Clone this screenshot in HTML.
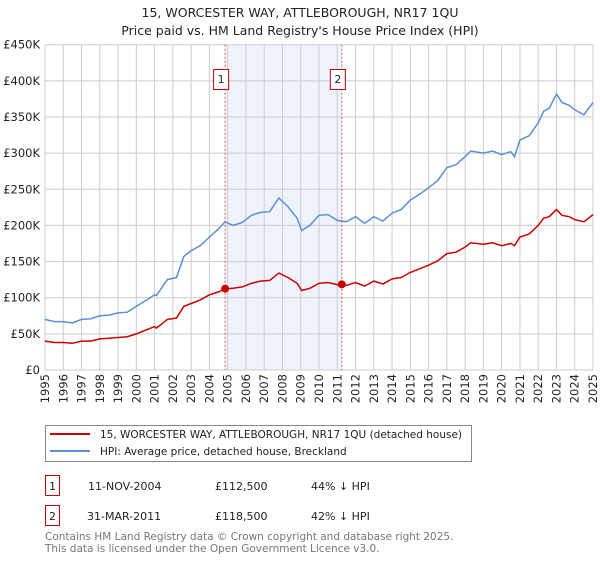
<!DOCTYPE html>
<html><head><meta charset="utf-8"><style>
body{margin:0;background:#fff;font-family:"DejaVu Sans","Liberation Sans",sans-serif;}
svg text{font-family:"DejaVu Sans","Liberation Sans",sans-serif;}
</style></head><body>
<svg id="chart" width="600" height="560" xmlns="http://www.w3.org/2000/svg">
<text x="300" y="17" text-anchor="middle" font-size="12.5" fill="#222">15, WORCESTER WAY, ATTLEBOROUGH, NR17 1QU</text>
<text x="300" y="35" text-anchor="middle" font-size="12.5" fill="#222">Price paid vs. HM Land Registry's House Price Index (HPI)</text>
<g id="grid"></g><g id="marks"></g><g id="axes"></g>
<g>
<rect x="45.5" y="425.5" width="426" height="36" fill="#fff" stroke="#888"/>
<line x1="50" y1="434" x2="90" y2="434" stroke="#cc0000" stroke-width="2"/>
<text x="100" y="438" font-size="10.5" fill="#222">15, WORCESTER WAY, ATTLEBOROUGH, NR17 1QU (detached house)</text>
<line x1="50" y1="451" x2="90" y2="451" stroke="#5b8fd4" stroke-width="2"/>
<text x="100" y="455" font-size="10.5" fill="#222">HPI: Average price, detached house, Breckland</text>
</g>
<g font-size="11" fill="#222">
<rect x="45.5" y="475.5" width="14" height="20" fill="none" stroke="#cc0000"/>
<text x="52.5" y="490" text-anchor="middle">1</text>
<text x="88" y="490">11-NOV-2004</text><text x="215" y="490">£112,500</text><text x="311" y="490">44% ↓ HPI</text>
<rect x="45.5" y="505.5" width="14" height="20" fill="none" stroke="#cc0000"/>
<text x="52.5" y="520" text-anchor="middle">2</text>
<text x="87" y="520">31-MAR-2011</text><text x="215" y="520">£118,500</text><text x="311" y="520">42% ↓ HPI</text>
</g>
<text x="45" y="540" font-size="10.5" fill="#777">Contains HM Land Registry data © Crown copyright and database right 2025.</text>
<text x="45" y="552" font-size="10.5" fill="#777">This data is licensed under the Open Government Licence v3.0.</text>
</svg>
<script>
const hpiYears=[1995,1995.5,1996,1996.5,1997,1997.5,1998,1998.5,1999,1999.5,2000,2000.5,2001,2001.1,2001.7,2002.2,2002.6,2003,2003.5,2004,2004.5,2004.86,2005.3,2005.8,2006.3,2006.8,2007.3,2007.8,2008.3,2008.8,2009.05,2009.5,2010,2010.5,2011,2011.5,2012,2012.5,2013,2013.5,2014,2014.5,2015,2015.5,2016,2016.5,2017,2017.5,2018,2018.3,2019,2019.5,2020,2020.5,2020.7,2021,2021.5,2022,2022.3,2022.6,2023,2023.3,2023.7,2024,2024.5,2025];
const hpiValues=[70,67,67,65,70,71,75,76,79,80,88,96,104,103,125,128,157,165,172,184,195,205,200,204,214,218,219,238,226,210,193,200,214,215,207,205,212,203,212,206,217,222,235,243,252,262,280,284,295,303,300,303,298,302,295,318,324,342,358,362,382,370,366,360,353,370];
const propYears=[1995,1995.5,1996,1996.5,1997,1997.5,1998,1998.5,1999,1999.5,2000,2000.5,2001,2001.1,2001.7,2002.2,2002.6,2003,2003.5,2004,2004.5,2004.86,2005.3,2005.8,2006.3,2006.8,2007.3,2007.8,2008.3,2008.8,2009.05,2009.5,2010,2010.5,2011,2011.25,2011.5,2012,2012.5,2013,2013.5,2014,2014.5,2015,2015.5,2016,2016.5,2017,2017.5,2018,2018.3,2019,2019.5,2020,2020.5,2020.7,2021,2021.5,2022,2022.3,2022.6,2023,2023.3,2023.7,2024,2024.5,2025];
const propValues=[40,38,38,37,40,40,43,44,45,46,50,55,60,58,70,72,88,92,97,104,108,112.5,113,115,120,123,124,134,128,120,110,113,120,121,118,118.5,117,121,116,123,119,126,128,135,140,145,151,161,163,170,176,174,176,172,175,172,184,188,200,210,212,222,214,212,208,205,215];
const sales=[{n:"1",year:2004.86,value:112.5},{n:"2",year:2011.25,value:118.5}];
const yTicks=[0,50,100,150,200,250,300,350,400,450];
const xTicks=[1995,1996,1997,1998,1999,2000,2001,2002,2003,2004,2005,2006,2007,2008,2009,2010,2011,2012,2013,2014,2015,2016,2017,2018,2019,2020,2021,2022,2023,2024,2025];
const X0=45,X1=593,Y0=370,Y1=44.7;
const xs=y=>X0+(y-1995)/30*(X1-X0);
const ys=v=>Y0-v/450*(Y0-Y1);
const NS="http://www.w3.org/2000/svg";
function mk(tag,attrs,parent){const e=document.createElementNS(NS,tag);for(const k in attrs)e.setAttribute(k,attrs[k]);parent.appendChild(e);return e;}
const grid=document.getElementById('grid'),marks=document.getElementById('marks'),axes=document.getElementById('axes');
const band=mk('rect',{x:xs(sales[0].year),y:Y1,width:xs(sales[1].year)-xs(sales[0].year),height:Y0-Y1,fill:'#eef3fc'},grid);


yTicks.forEach(t=>{
 const l=mk('line',{x1:X0,x2:X1,y1:ys(t),y2:ys(t),stroke:'#ccc'},grid);
 
 
 const tx=mk('text',{x:X0-5,y:ys(t)+4,'text-anchor':'end','font-size':'11.5',fill:'#222'},axes);
 tx.textContent='£'+(t===0?'0':t+'K');
 
 
});
xTicks.forEach(t=>{
 const l=mk('line',{x1:xs(t),x2:xs(t),y1:Y1,y2:Y0,stroke:'#ccc'},grid);
 
 
 const tx=mk('text',{transform:`translate(${xs(t)+4},${Y0+4}) rotate(-90)`,'text-anchor':'end','font-size':'11.5',fill:'#222'},axes);
 tx.textContent=t;
 
 
});
function line(xv,yv,color,name){
 const d=xv.map((x,i)=>(i?'L':'M')+xs(x).toFixed(1)+','+ys(yv[i]).toFixed(1)).join('');
 const p=mk('path',{d:d,fill:'none',stroke:color,'stroke-width':1.5},marks);
 
 
}
line(hpiYears,hpiValues,'#5b8fd4','hpi-line');
line(propYears,propValues,'#cc0000','property-price-line');
sales.forEach(s=>{
 const l=mk('line',{x1:xs(s.year),x2:xs(s.year),y1:Y1,y2:Y0,stroke:'#e05050','stroke-dasharray':'2,2'},marks);
 
 
 const c=mk('circle',{cx:xs(s.year),cy:ys(s.value),r:4,fill:'#cc0000'},marks);
 
 
 const r=mk('rect',{x:xs(s.year)-11.5,y:69.5,width:15,height:20,fill:'#fff',stroke:'#cc0000'},marks);
 
 
 const t=mk('text',{x:xs(s.year)-4,y:83,'text-anchor':'middle','font-size':'11',fill:'#222'},marks);
 t.textContent=s.n;
 
 
});
</script>
</body></html>
